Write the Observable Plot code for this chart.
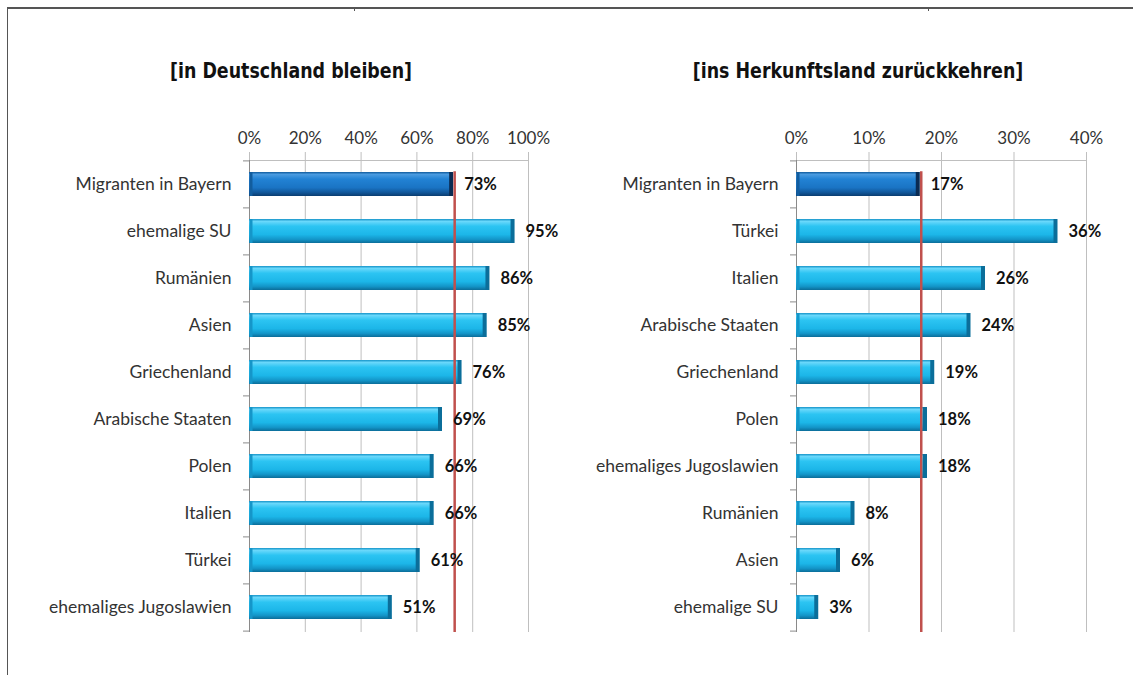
<!DOCTYPE html>
<html><head><meta charset="utf-8">
<script src="https://cdn.jsdelivr.net/npm/d3@7"></script>
<script src="https://cdn.jsdelivr.net/npm/@observablehq/plot@0.6"></script>
<style>
body{margin:0;background:#fff;}
#wrap{position:relative;width:1133px;height:675px;overflow:hidden;background:#fff;font-family:Lato,sans-serif;}
.fr{position:absolute;background:#555;}
.title{position:absolute;top:58px;transform:translateX(-50%) scaleX(0.88);white-space:nowrap;font-family:"Liberation Sans Narrow","DejaVu Sans Condensed",sans-serif;font-weight:bold;font-size:22px;color:#111;}
.panel{position:absolute;top:100px;}
</style></head>
<body><div id="wrap">
<div class="fr" style="left:7px;top:7px;width:1126px;height:2px"></div>
<div class="fr" style="left:7px;top:7px;width:1px;height:668px"></div>
<div class="fr" style="left:354px;top:9px;width:1px;height:2px"></div>
<div class="fr" style="left:928px;top:9px;width:1px;height:2px"></div>
<div class="title" style="left:291px">[in Deutschland bleiben]</div>
<div class="title" style="left:858px">[ins Herkunftsland zurückkehren]</div>
<div class="panel" id="left" style="left:0px"></div>
<div class="panel" id="right" style="left:566px"></div>
</div>
<script>
const highlightName = "Migranten in Bayern";

const leftCats = ["Migranten in Bayern","ehemalige SU","Rumänien","Asien","Griechenland","Arabische Staaten","Polen","Italien","Türkei","ehemaliges Jugoslawien"];
const leftValues = [73,95,86,85,76,69,66,66,61,51];
const leftTicks = [0,20,40,60,80,100];
const leftRef = 73;

const rightCats = ["Migranten in Bayern","Türkei","Italien","Arabische Staaten","Griechenland","Polen","ehemaliges Jugoslawien","Rumänien","Asien","ehemalige SU"];
const rightValues = [17,36,26,24,19,18,18,8,6,3];
const rightTicks = [0,10,20,30,40];
const rightRef = 17;

function addGradient(defs, id, stops) {
  const g = defs.append("linearGradient").attr("id", id).attr("x1",0).attr("y1",0).attr("x2",0).attr("y2",1);
  stops.forEach(([o,c]) => g.append("stop").attr("offset", o).attr("stop-color", c));
}

function makePanel({cats, values, ticks, max, ref, width, marginLeft, marginRight, id}) {
  const data = cats.map((c,i) => ({name:c, value:values[i]}));
  const dHi = data.filter(d => d.name === highlightName);
  const dLo = data.filter(d => d.name !== highlightName);
  const height = 542, marginTop = 60, marginBottom = 10;
  const step = (height - marginTop - marginBottom) / cats.length;
  const fmt = d => d + "%";
  const plot = Plot.plot({
    width, height, marginTop, marginBottom, marginLeft, marginRight,
    style: {fontFamily: "Lato, sans-serif", fontSize: "17px", color: "#333", background: "transparent", overflow: "visible"},
    x: {domain: [0, max], label: null},
    y: {domain: cats, paddingInner: 0.48, paddingOuter: 0.24, label: null},
    marks: [
      Plot.gridX(ticks, {stroke: "#bfbfbf", strokeOpacity: 1, insetTop: -8}),
      Plot.frame({anchor: "top", stroke: "#bfbfbf"}),
      Plot.axisX({anchor: "top", ticks, tickFormat: fmt, tickSize: 0, tickPadding: 17, fontSize: 17, fill: "#333"}),
      Plot.axisY({tickSize: 0, tickPadding: 18, fontSize: 17.5, fill: "#333"}),
      Plot.ruleX([0], {stroke: "#8a8a8a"}),
      Plot.ruleY(cats, {y: d => d, x1: 0, x2: 0, insetLeft: -6, dy: -step/2, stroke: "#8a8a8a"}),
      Plot.ruleY([cats[cats.length-1]], {y: d => d, x1: 0, x2: 0, insetLeft: -6, dy: step/2, stroke: "#8a8a8a"}),
      Plot.barX(dLo, {x: "value", y: "name", fill: `url(#${id}-cyan)`}),
      Plot.barX(dHi, {x: "value", y: "name", fill: `url(#${id}-dark)`}),
      Plot.tickX(dLo, {x: "value", y: "name", stroke: "#0b6e9a", strokeWidth: 4, dx: -2}),
      Plot.tickX(dHi, {x: "value", y: "name", stroke: "#0a2b52", strokeWidth: 4, dx: -2}),
      Plot.tickX(dLo, {x: () => 0, y: "name", stroke: "#1596c9", strokeWidth: 3, dx: 1.5}),
      Plot.tickX(dHi, {x: () => 0, y: "name", stroke: "#125d9e", strokeWidth: 3, dx: 1.5}),
      Plot.ruleX([ref], {stroke: "#c0504d", strokeWidth: 2.5, insetTop: step*0.24, dx: 1.5}),
      Plot.text(data, {x: "value", y: "name", text: d => fmt(d.value), textAnchor: "start", dx: 11, fontWeight: "bold", fontSize: 16.5, fill: "#111"})
    ]
  });
  const defs = d3.select(plot).insert("defs", ":first-child");
  addGradient(defs, id + "-cyan", [[0,"#1593c8"],[0.1,"#6ad8fb"],[0.3,"#2cc4f2"],[0.65,"#1cb6e8"],[0.85,"#1395c8"],[1,"#0b6d99"]]);
  addGradient(defs, id + "-dark", [[0,"#0f5a9c"],[0.1,"#4a9be0"],[0.3,"#2282d4"],[0.65,"#1a74c4"],[0.85,"#11579a"],[1,"#0a3d70"]]);
  return plot;
}

document.getElementById("left").appendChild(makePanel({
  cats: leftCats, values: leftValues, ticks: leftTicks, max: 100, ref: leftRef,
  width: 566, marginLeft: 249, marginRight: 38, id: "l"
}));
document.getElementById("right").appendChild(makePanel({
  cats: rightCats, values: rightValues, ticks: rightTicks, max: 40, ref: rightRef,
  width: 567, marginLeft: 230, marginRight: 47, id: "r"
}));
</script>
</body></html>
